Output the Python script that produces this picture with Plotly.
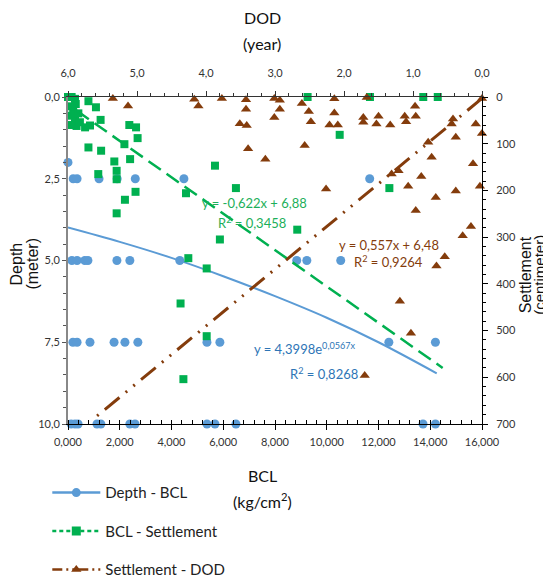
import plotly.graph_objects as go

# ---------------- data ----------------
# Depth - BCL (blue circles): x = BCL (kg/cm2), y = depth (m)
depth_bcl_bcl = [0.0,
                 0.2, 0.35, 1.2, 1.9, 2.6, 4.48, 11.66,
                 0.15, 0.35, 0.65, 0.77, 1.89, 2.39, 4.32, 8.84, 9.23, 10.54,
                 0.19, 0.35, 0.85, 1.78, 2.2, 2.7, 5.37, 5.87, 12.4, 14.2,
                 0.12, 0.27, 0.39, 1.12, 1.27, 2.39, 2.59, 5.37, 5.68, 6.49, 13.72, 14.2]
depth_bcl_depth = [2.0,
                   2.5, 2.5, 2.5, 2.5, 2.5, 2.5, 2.5,
                   5.0, 5.0, 5.0, 5.0, 5.0, 5.0, 5.0, 5.0, 5.0, 5.0,
                   7.5, 7.5, 7.5, 7.5, 7.5, 7.5, 7.5, 7.5, 7.5, 7.5,
                   10.0, 10.0, 10.0, 10.0, 10.0, 10.0, 10.0, 10.0, 10.0, 10.0, 10.0, 10.0]
# exponential trendline as drawn
depth_trend_bcl = [0.0, 2.0, 4.0, 6.0, 8.0, 10.0, 12.0, 14.25]
depth_trend_depth = [3.99, 4.43, 4.92, 5.48, 6.09, 6.75, 7.5, 8.45]

# BCL - Settlement (green squares): x = BCL, y = settlement (cm)
bcl_settl_bcl = [0.0, 0.14, 0.27, 0.2, 0.14, 0.27, 0.33, 0.46, 0.66, 0.85,
                 0.79, 1.08, 1.26, 0.14, 0.30, 0.10, 0.40, 2.37, 2.63, 2.69,
                 2.18, 2.40, 1.28, 0.79, 1.79, 1.88, 1.17, 1.88, 2.61, 2.20,
                 1.88, 4.56, 4.65, 5.68, 6.49, 5.87, 8.86, 9.26, 10.50, 11.67,
                 13.73, 14.29, 12.42, 4.35, 4.46, 5.36, 5.36]
bcl_settl_settl = [0, 0, 4, 26, 40, 51, 62, 54, 65, 61,
                   9, 22, 49, 20, 15, 60, 35, 60, 65, 88,
                   101, 133, 115, 108, 138, 158, 165, 176, 203, 220,
                   249, 206, 345, 147, 195, 305, 284, 0, 81, 0,
                   0, 0, 195, 442, 604, 367, 512]
bcl_trend_bcl = [0.33, 14.48]
bcl_trend_settl = [29, 580]

# Settlement - DOD (brown triangles): x = DOD (year), y = settlement (cm)
settl_dod_dod = [5.35, 5.13, 4.17, 4.11, 3.77, 3.42, 3.42, 3.51, 3.41, 3.39,
                 3.14, 3.01, 2.93, 2.93, 3.01, 2.61, 2.51, 2.48, 2.57, 2.14,
                 2.14, 2.21, 2.09, 2.26, 1.67, 1.72, 1.72, 1.53, 1.50, 1.33,
                 1.12, 1.10, 0.97, 0.96, 0.78, 0.73, 0.42, 0.44, 0.38, 0.09,
                 0.0, 0.0, 1.31, 1.21, 0.88, 1.07, 0.67, 0.38, 0.13, 0.03,
                 0.96, 0.28, 0.16, 0.54, 0.66, 1.19, 1.03, 1.70]
settl_dod_settl = [3, 19, 5, 19, 3, 6, 26, 57, 61, 111,
                   133, 3, 7, 26, 44, 14, 31, 53, 104, 4,
                   34, 60, 60, 197, 1, 44, 54, 58, 41, 60,
                   41, 53, 20, 41, 97, 129, 47, 58, 86, 58,
                   78, 3, 165, 158, 170, 191, 215, 201, 143, 191,
                   243, 297, 277, 342, 362, 437, 506, 596]
dod_trend_dod = [0.0, 5.63]
dod_trend_settl = [3, 689]

# ---------------- styling ----------------
BLUE = "#5B9BD5"
GREEN = "#00B050"
BROWN = "#843C0C"
NARROW = "Lato, Liberation Sans Narrow, sans-serif"
ARIAL = "Liberation Sans, Arial, sans-serif"

fig = go.Figure()

# data markers
fig.add_trace(go.Scatter(x=depth_bcl_bcl, y=depth_bcl_depth, mode="markers",
                         xaxis="x", yaxis="y", showlegend=False, cliponaxis=False,
                         marker=dict(symbol="circle", size=9, color=BLUE)))
fig.add_trace(go.Scatter(x=bcl_settl_bcl, y=bcl_settl_settl, mode="markers",
                         xaxis="x", yaxis="y2", showlegend=False, cliponaxis=False,
                         marker=dict(symbol="square", size=8, color=GREEN)))
fig.add_trace(go.Scatter(x=settl_dod_dod, y=settl_dod_settl, mode="markers",
                         xaxis="x2", yaxis="y2", showlegend=False, cliponaxis=False,
                         marker=dict(symbol="triangle-up", size=9, color=BROWN)))

# trendlines
fig.add_trace(go.Scatter(x=depth_trend_bcl, y=depth_trend_depth, mode="lines",
                         xaxis="x", yaxis="y", showlegend=False, line_shape="spline",
                         line=dict(color=BLUE, width=2)))
fig.add_trace(go.Scatter(x=bcl_trend_bcl, y=bcl_trend_settl, mode="lines",
                         xaxis="x", yaxis="y2", showlegend=False,
                         line=dict(color=GREEN, width=2.5, dash="15px,7px")))
fig.add_trace(go.Scatter(x=dod_trend_dod, y=dod_trend_settl, mode="lines",
                         xaxis="x2", yaxis="y2", showlegend=False,
                         line=dict(color=BROWN, width=3, dash="19px,8px,2px,8px,2px,8px")))

# legend entries
legend_items = [("Depth - BCL", BLUE, "circle", "solid"),
                ("BCL - Settlement", GREEN, "square", "4px,3px"),
                ("Settlement - DOD", BROWN, "triangle-up", "10px,4px,2px,4px,2px,4px")]
for i, (name, col, sym, dash) in enumerate(legend_items):
    fig.add_trace(go.Scatter(x=[None], y=[None], mode="lines+markers", name=name,
                             legendgroup=f"g{i}", xaxis="x", yaxis="y",
                             marker=dict(symbol=sym, size=9, color=col),
                             line=dict(color=col, width=2.5, dash=dash)))

axis_common = dict(showgrid=False, zeroline=False, showline=True,
                   tickfont=dict(family=NARROW, size=11, color="#333333"))

# the page body adds an 8px offset, so the figure is 8px smaller on each axis
fig.update_layout(
    width=543, height=573,
    margin=dict(l=60, r=69, t=89, b=157, autoexpand=False),
    paper_bgcolor="white", plot_bgcolor="white",
    separators=",.",
    font=dict(family=NARROW, color="#222222"),
    showlegend=True,
    legend=dict(x=-0.05, y=-0.16, xanchor="left", yanchor="top",
                orientation="v", traceorder="grouped", tracegroupgap=16,
                font=dict(family=NARROW, size=15, color="#222222"),
                bgcolor="rgba(0,0,0,0)", itemwidth=48),
    xaxis=dict(range=[0, 16], tick0=0, dtick=2, tickformat=".3f",
               ticks="outside", ticklen=5, tickcolor="#000", linecolor="#000", linewidth=1,
               minor=dict(dtick=0.4, ticks="inside", ticklen=4, tickcolor="#000"),
               anchor="y", side="bottom", ticklabelstandoff=3, **axis_common),
    xaxis2=dict(range=[6, 0], tick0=0, dtick=1, tickformat=".1f",
                overlaying="x", side="top", anchor="y",
                ticks="outside", ticklen=5, tickcolor="#333", linecolor="#333", linewidth=1,
                minor=dict(dtick=0.2, ticks="outside", ticklen=3, tickcolor="#333"),
                ticklabelstandoff=10, **axis_common),
    yaxis=dict(range=[10, 0], tick0=0, dtick=2.5, tickformat=".1f",
               ticks="outside", ticklen=4, tickcolor="#555", linecolor="#888", linewidth=2,
               minor=dict(dtick=0.5, ticks="outside", ticklen=3, tickcolor="#555"),
               anchor="x", side="left", **axis_common),
    yaxis2=dict(range=[700, 0], tick0=0, dtick=100, tickformat="d",
                overlaying="y", side="right", anchor="x",
                ticks="outside", ticklen=5, tickcolor="#000", linecolor="#000", linewidth=1,
                minor=dict(dtick=20, ticks="outside", ticklen=3, tickcolor="#000"),
                ticklabelstandoff=6, **axis_common),
)

anns = []
# axis titles
def title(text, x, y, fam, size, angle=0):
    anns.append(dict(text=text, x=x, y=y, xref="paper", yref="paper", showarrow=False,
                     xanchor="center", yanchor="middle", textangle=angle,
                     font=dict(family=fam, size=size, color="#111111")))

title("DOD", 0.4686, 1.2446, NARROW, 16)
title("(year)", 0.4686, 1.165, NARROW, 16)
title("BCL", 0.4686, -0.156, NARROW, 16)
title("(kg/cm<sup>2</sup>)", 0.4686, -0.235, NARROW, 16)
title("Depth", -0.124, 0.49, ARIAL, 16, -90)
title("(meter)", -0.085, 0.49, ARIAL, 16, -90)
title("Settlement", 1.105, 0.456, ARIAL, 16, -90)
title("(centimeter)", 1.140, 0.456, ARIAL, 15, -90)

# trendline equations (placed in BCL / depth coordinates)
def eq(text, x, y, col):
    anns.append(dict(text=text, x=x, y=y, xref="x", yref="y", showarrow=False,
                     xanchor="center", yanchor="middle",
                     font=dict(family=NARROW, size=13, color=col)))

eq("y = -0,622x + 6,88", 7.19, 3.24, "#1DAF5A")
eq("R<sup>2</sup> = 0,3458", 7.11, 3.85, "#1DAF5A")
eq("y = 0,557x + 6,48", 12.41, 4.52, BROWN)
eq("R<sup>2</sup> = 0,9264", 12.39, 5.04, BROWN)
eq("y = 4,3998e<sup>0,0567x</sup>", 9.16, 7.70, "#2E75B6")
eq("R<sup>2</sup> = 0,8268", 9.88, 8.47, "#2E75B6")

fig.update_layout(annotations=anns)

fig.write_html("out.html")
